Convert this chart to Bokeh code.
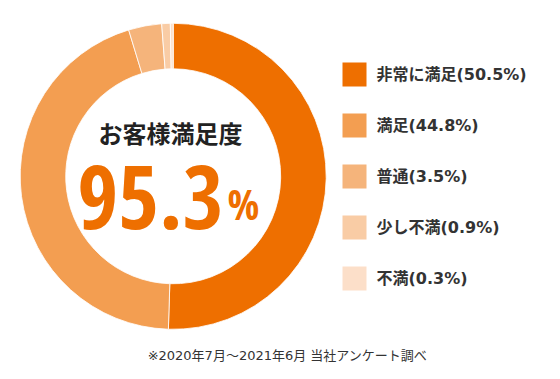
import numpy as np
from bokeh.plotting import figure
from bokeh.models import Range1d, ColumnDataSource
from bokeh.core.properties import value
from bokeh.embed import file_html
from bokeh.resources import INLINE

categories = ["非常に満足", "満足", "普通", "少し不満", "不満"]
percents = [50.5, 44.8, 3.5, 0.9, 0.3]
colors = ["#EE6F00", "#F39E51", "#F5B47B", "#F9CCA5", "#FCDFC9"]
total_label = "95.3"
title_label = "お客様満足度"
note = "※2020年7月～2021年6月 当社アンケート調べ"

W, H = 552, 371
p = figure(width=W, height=H, output_backend="svg", toolbar_location=None,
           x_range=Range1d(0, W), y_range=Range1d(0, H),
           x_axis_type=None, y_axis_type=None, min_border=0)
p.outline_line_color = None
p.grid.visible = False

def sy(y):
    return H - y

def sx(x):
    return x

LAT = value("'DejaVu Sans', 'Noto Sans CJK JP'")
BIG = value("'Open Sans Condensed', 'Roboto Condensed', sans-serif")

frac = np.array(percents) / sum(percents)
cum = np.concatenate([[0], np.cumsum(frac)])
start = np.pi / 2 - 2 * np.pi * cum[:-1]
end = np.pi / 2 - 2 * np.pi * cum[1:]
src = ColumnDataSource(dict(start=start, end=end, color=colors))
cx, cy = sx(172.7), sy(175.8)
p.annular_wedge(x=cx, y=cy, inner_radius=107.5, outer_radius=153,
                start_angle="start", end_angle="end", direction="clock",
                fill_color="color", line_color="white", line_width=0.8, source=src)

# legend
labels = [f"{c}({v}%)" for c, v in zip(categories, percents)]
ys = [sy(74 + 51 * i) for i in range(len(categories))]
p.rect(x=[sx(354)] * 5, y=ys, width=24, height=24, fill_color=colors, line_color=None)
p.text(x=[sx(376)] * 5, y=ys, text=labels, text_font=LAT,
       text_font_style="bold", text_font_size="16px", text_color="#333333",
       text_baseline="middle", text_align="left")

# center text
p.text(x=[sx(170)], y=[sy(132)], text=[title_label], text_font=value("Noto Sans CJK JP"),
       text_font_style="bold", text_font_size="24px", text_color="#222222",
       text_baseline="middle", text_align="center")
p.text(x=[sx(223)], y=[sy(196)], text=[total_label],
       text_font=BIG, text_font_style="bold",
       text_font_size="88px", text_color="#EE6F00",
       text_baseline="alphabetic", text_align="right")
p.text(x=[sx(227)], y=[sy(203)], text=["%"],
       text_font=BIG, text_font_style="bold",
       text_font_size="42px", text_color="#EE6F00",
       text_baseline="alphabetic", text_align="left")

# footnote
p.text(x=[sx(287)], y=[sy(355)], text=[note], text_font=LAT,
       text_font_size="13px", text_color="#333333",
       text_baseline="middle", text_align="center")

open("out.html", "w").write(file_html(p, INLINE))
